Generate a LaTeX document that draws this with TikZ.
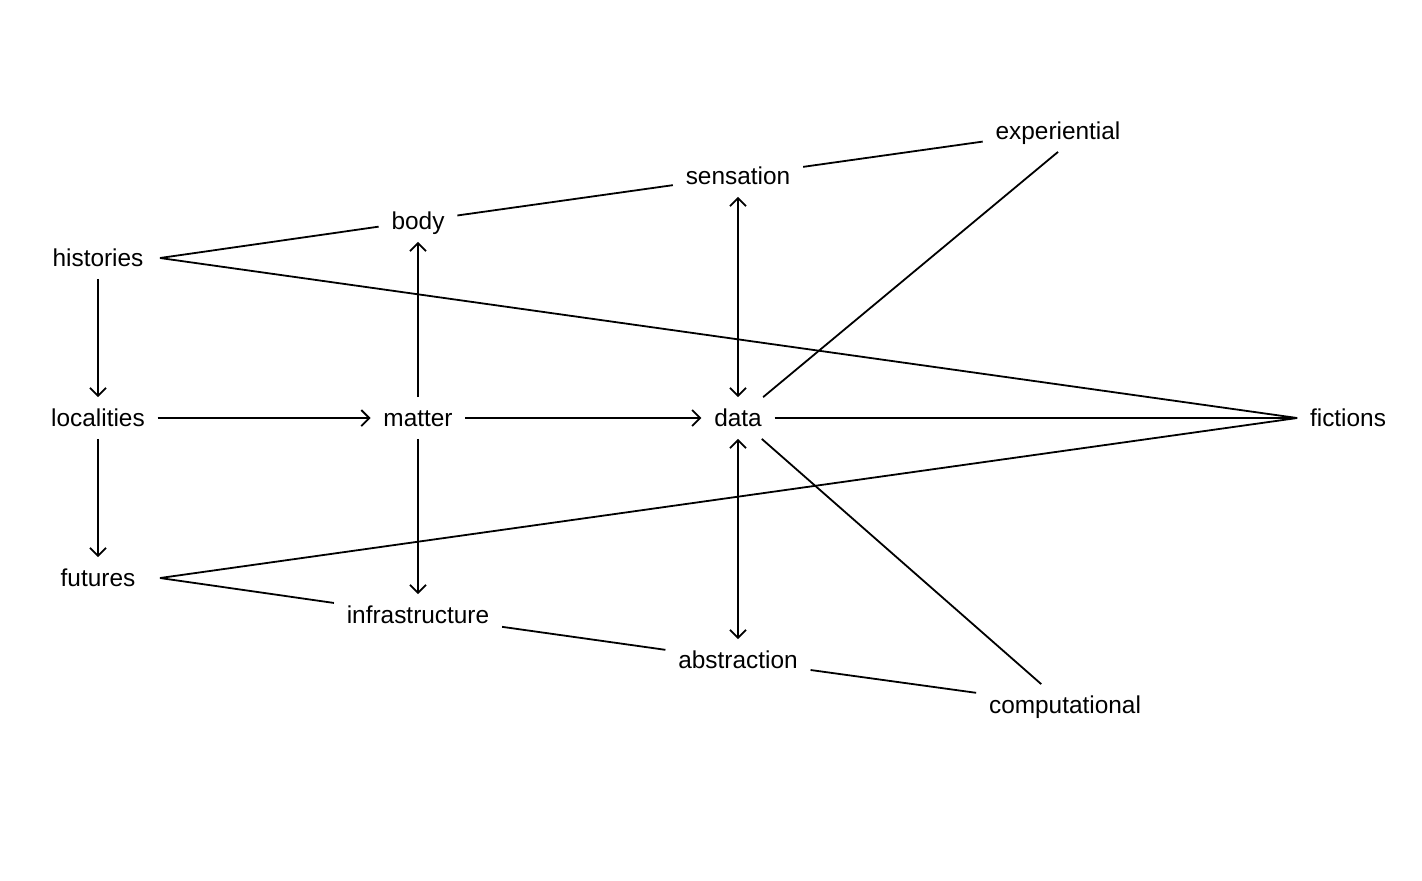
\documentclass[tikz,border=0pt]{standalone}
\usepackage{fontspec}
\setmainfont{Liberation Sans}
\usetikzlibrary{arrows.meta}
\tikzset{
	termnode/.style = {align=center, inner xsep=6pt, inner ysep=5pt,
		text height=9pt, text depth=1pt, font=\fontsize{12.2pt}{14pt}\selectfont},% noeud texte
	link/.style = {line width=0.9pt, black}% trait simple
}

\begin{document}
\begin{tikzpicture}[x=0.5pt,y=-0.5pt,link,>={Straight Barb[length=4pt,width=8pt]}]
		\useasboundingbox (0,0) rectangle (1422,880);
		\node [termnode] (histories) at (98,258) {histories};
		\node [termnode] (localities) at (98,418) {localities};
		\node [termnode] (futures) at (98,578) {futures};
		\node [termnode] (body) at (418,221) {body};
		\node [termnode] (matter) at (418,418) {matter};
		\node [termnode] (infrastructure) at (418,615) {infrastructure};
		\node [termnode] (sensation) at (738,176) {sensation};
		\node [termnode] (data) at (738,418) {data};
		\node [termnode] (abstraction) at (738,660) {abstraction};
		\node [termnode] (experiential) at (1058,131) {experiential};
		\node [termnode] (computational) at (1065,705) {computational};
		\node [termnode] (fictions) at (1348,418) {fictions};
		% fleches
		\draw [->] (histories) -- (localities);
		\draw [->] (localities) -- (futures);
		\draw [->] (localities) -- (matter);
		\draw [->] (matter) -- (data);
		\draw [->] (matter) -- (body);
		\draw [->] (matter) -- (infrastructure);
		\draw [<->] (data) -- (sensation);
		\draw [<->] (data) -- (abstraction);
		% traits
		\draw ([xshift=31pt]histories.center) -- (body);
		\draw (body) -- (sensation);
		\draw (sensation) -- (experiential);
		\draw ([xshift=31pt]histories.center) -- (fictions.west);
		\draw ([xshift=31pt]futures.center) -- (fictions.west);
		\draw (data) -- (fictions.west);
		\draw (data) -- (experiential.south);
		\draw (data) -- (computational);
		\draw ([xshift=31pt]futures.center) -- (infrastructure);
		\draw (infrastructure) -- (abstraction);
		\draw (abstraction) -- (computational);
\end{tikzpicture}
\end{document}
